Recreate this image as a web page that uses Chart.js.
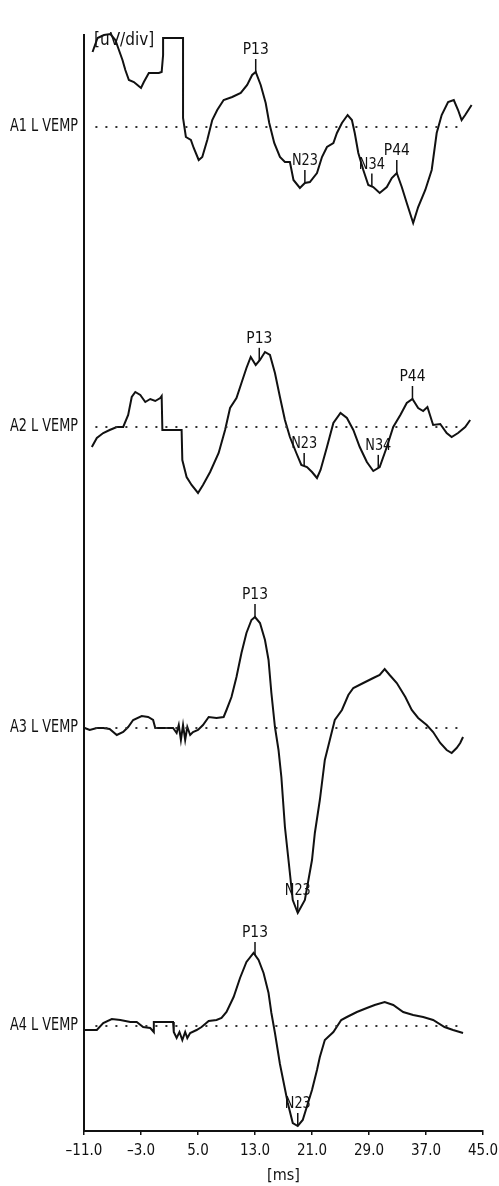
<!DOCTYPE html>
<html>
<head>
<meta charset="utf-8">
<script src="https://cdn.jsdelivr.net/npm/chart.js@4.4.1/dist/chart.umd.min.js"></script>
<style>
  html, body { margin: 0; padding: 0; background: #fff; }
</style>
</head>
<body>
<canvas id="vempChart" width="499" height="1186"></canvas>
<script>
// Eje x en ms; cada trazo: [ms, amplitud relativa a su línea base]
const xTicks = [-11, -3, 5, 13, 21, 29, 37, 45];
const traceNames = ['A1 L VEMP', 'A2 L VEMP', 'A3 L VEMP', 'A4 L VEMP'];
const baselines = [1004, 704, 403, 105];
const dotSpan = [-9.4, 42.5];

const a1 = [[-9.8,75],[-9.1,89],[-8.2,92],[-7.3,93],[-6.6,87],[-6.1,77],[-5.6,67],[-5.2,57],[-4.7,47],[-4.0,45],
  [-3.5,42],[-3.0,39],[-2.6,45],[-1.9,54],[-1.2,54],[-0.5,54],[-0.1,55],[0.1,72],[0.1,89],[2.9,89],
  [2.9,9],[3.3,-10],[4.0,-13],[4.4,-21],[5.1,-33],[5.6,-30],[6.3,-13],[7.0,7],[7.7,17],[8.6,27],
  [9.8,30],[11.0,34],[11.9,42],[12.6,52],[13.1,55],[13.8,42],[14.5,24],[15.0,4],[15.7,-16],[16.5,-30],
  [17.2,-35],[17.9,-35],[18.4,-53],[19.3,-61],[20.0,-56],[20.7,-55],[21.7,-46],[22.4,-30],[23.1,-20],[24.0,-16],
  [24.5,-6],[25.2,4],[26.0,12],[26.6,7],[27.0,-6],[27.5,-26],[28.2,-43],[28.9,-58],[29.6,-60],[30.5,-66],
  [31.5,-60],[32.2,-51],[32.9,-46],[33.6,-60],[34.3,-76],[35.2,-96],[35.9,-80],[36.9,-63],[37.8,-43],[38.5,-6],
  [39.2,12],[40.1,25],[40.9,27],[41.5,17],[42.0,7],[42.5,12],[43.4,22]];

const a2 = [[-9.9,-20],[-9.2,-11],[-8.3,-6],[-7.4,-3],[-6.4,0],[-5.5,0],[-4.8,12],[-4.3,30],[-3.8,35],[-3.1,32],
  [-2.4,25],[-1.7,28],[-1.0,26],[-0.3,29],[-0.1,31],[0.0,-3],[2.7,-3],[2.8,-33],[3.4,-50],[4.1,-58],
  [5.0,-66],[5.7,-58],[6.7,-45],[7.9,-26],[8.8,-3],[9.5,19],[10.4,29],[11.1,44],[11.8,59],[12.4,70],
  [13.1,62],[13.7,67],[14.4,75],[15.1,72],[15.8,54],[16.5,30],[17.2,7],[17.9,-10],[18.8,-26],[19.5,-38],
  [20.3,-40],[21.0,-45],[21.7,-51],[22.2,-43],[23.1,-20],[24.0,4],[25.0,14],[25.9,9],[26.8,-3],[27.7,-20],
  [28.7,-35],[29.6,-44],[30.5,-40],[31.5,-20],[32.4,0],[33.4,12],[34.3,24],[35.1,28],[35.9,19],[36.6,16],
  [37.2,20],[38.0,2],[39.0,3],[39.9,-6],[40.6,-10],[41.5,-6],[42.5,0],[43.2,7]];

const a3 = [[-10.9,0],[-10.2,-2],[-9.2,0],[-8.3,0],[-7.4,-1],[-6.4,-7],[-5.5,-4],[-4.8,1],[-4.1,8],[-2.9,12],
  [-2.0,11],[-1.3,8],[-1.0,0],[0.1,0],[1.5,0],[2.0,-5],[2.3,3],[2.6,-12],[2.9,3],[3.2,-12],
  [3.5,1],[3.9,-7],[4.3,-4],[5.0,-2],[5.7,3],[6.5,11],[7.6,10],[8.6,11],[9.0,18],[9.7,31],
  [10.4,51],[11.1,75],[11.8,95],[12.5,108],[13.0,111],[13.7,105],[14.4,88],[14.9,68],[15.3,35],[15.8,1],
  [16.3,-22],[16.7,-49],[17.2,-99],[17.7,-132],[18.3,-172],[19.0,-185],[20.0,-172],[21.0,-132],[21.4,-105],[22.1,-72],
  [22.8,-32],[23.5,-12],[24.2,8],[25.2,18],[26.1,33],[26.8,40],[28.2,45],[29.6,50],[30.5,53],[31.2,59],
  [31.9,53],[32.9,45],[34.1,31],[35.0,18],[35.9,10],[37.1,3],[38.0,-4],[39.0,-15],[39.9,-22],[40.6,-25],
  [41.3,-20],[41.8,-15],[42.2,-9]];

const a4 = [[-10.9,-4],[-9.2,-4],[-8.3,3],[-7.1,7],[-5.9,6],[-4.5,4],[-3.6,4],[-2.7,-1],[-1.7,-2],[-1.2,-6],
  [-1.2,4],[1.5,4],[1.6,-6],[2.0,-12],[2.4,-6],[2.8,-14],[3.2,-6],[3.5,-12],[3.9,-7],[4.8,-4],
  [5.5,-1],[6.5,5],[7.6,6],[8.3,8],[9.0,14],[10.0,29],[10.9,48],[11.8,64],[12.8,73],[13.5,66],
  [14.2,53],[14.9,33],[15.3,13],[15.8,-7],[16.5,-38],[17.6,-77],[18.3,-97],[19.0,-100],[19.7,-94],[21.0,-64],
  [21.7,-44],[22.1,-31],[22.8,-14],[24.0,-6],[25.1,6],[25.9,9],[27.3,14],[28.7,18],[29.8,21],[31.2,24],
  [32.4,21],[33.8,14],[35.2,11],[36.6,9],[38.0,6],[39.6,-1],[40.8,-4],[42.2,-7]];

// Picos marcados: [trazo, etiqueta, ms]
const peaks = [
  [0, 'P13', 13.1], [0, 'N23', 20.0], [0, 'N34', 29.4], [0, 'P44', 32.9],
  [1, 'P13', 13.6], [1, 'N23', 19.9], [1, 'N34', 30.3], [1, 'P44', 35.1],
  [2, 'P13', 13.0], [2, 'N23', 19.0],
  [3, 'P13', 13.0], [3, 'N23', 19.0]
];

const traces = [a1, a2, a3, a4];
const FONT = "'Liberation Sans Narrow', 'DejaVu Sans Condensed', 'Roboto', sans-serif";
const INK = '#111';

// Interpolación lineal del trazo en un tiempo dado
function valueAt(tr, ms) {
  for (let i = 1; i < tr.length; i++) {
    const [t0, v0] = tr[i - 1];
    const [t1, v1] = tr[i];
    if (ms >= t0 && ms <= t1) {
      return t1 === t0 ? v1 : v0 + (v1 - v0) * (ms - t0) / (t1 - t0);
    }
  }
  return 0;
}

const fmtTick = v => (v < 0 ? '\u2013' + Math.abs(v).toFixed(1) : v.toFixed(1));

const vempLabels = {
  id: 'vempLabels',
  afterDatasetsDraw(chart) {
    const { ctx, chartArea } = chart;
    const x = chart.scales.x;
    const y = chart.scales.y;
    ctx.save();
    ctx.fillStyle = INK;
    ctx.strokeStyle = INK;
    ctx.textBaseline = 'middle';

    // Nombres de cada trazo
    ctx.font = '17px ' + FONT;
    ctx.textAlign = 'right';
    traceNames.forEach((name, i) => {
      ctx.fillText(name, chartArea.left - 6, y.getPixelForValue(baselines[i]), 68);
    });

    // Unidad vertical
    ctx.textAlign = 'left';
    ctx.font = '17px ' + FONT;
    ctx.fillText('[uV/div]', chartArea.left + 10, chartArea.top + 6, 64);

    // Marcas de picos
    ctx.font = '16px ' + FONT;
    ctx.textAlign = 'center';
    ctx.lineWidth = 1.5;
    peaks.forEach(([ti, label, ms]) => {
      const px = x.getPixelForValue(ms);
      const py = y.getPixelForValue(baselines[ti] + valueAt(traces[ti], ms));
      ctx.beginPath();
      ctx.moveTo(px, py);
      ctx.lineTo(px, py - 13);
      ctx.stroke();
      ctx.fillText(label, px, py - 22, 26);
    });
    ctx.restore();
  }
};

const datasets = [];
traces.forEach((tr, i) => {
  datasets.push({
    data: dotSpan.map(t => ({ x: t, y: baselines[i] })),
    borderColor: '#333',
    borderWidth: 2,
    borderDash: [2, 8],
    pointRadius: 0
  });
  datasets.push({
    data: tr.map(([t, v]) => ({ x: t, y: baselines[i] + v })),
    borderColor: INK,
    borderWidth: 2,
    pointRadius: 0,
    tension: 0,
    clip: false
  });
});

Chart.defaults.font.family = FONT;
Chart.defaults.color = INK;

new Chart(document.getElementById('vempChart').getContext('2d'), {
  type: 'line',
  data: { datasets },
  options: {
    responsive: false,
    animation: false,
    layout: { padding: { top: 35, right: 16, left: 0, bottom: 0 } },
    plugins: { legend: { display: false }, tooltip: { enabled: false } },
    scales: {
      x: {
        type: 'linear',
        min: -11,
        max: 45,
        afterBuildTicks: s => { s.ticks = xTicks.map(v => ({ value: v })); },
        afterFit: s => { s.height = 55; s.paddingLeft = 0; s.paddingRight = 0; },
        border: { color: INK, width: 2 },
        grid: { drawOnChartArea: false, tickLength: 4, color: INK, lineWidth: 1.5 },
        ticks: { color: INK, font: { size: 15 }, padding: 7, maxRotation: 0, autoSkip: false, callback: fmtTick },
        title: { display: true, text: '[ms]', color: INK, font: { size: 16 }, padding: { top: 0, bottom: 1 } }
      },
      y: {
        type: 'linear',
        min: 0,
        max: 1096,
        afterFit: s => { s.width = 84; },
        border: { color: INK, width: 2 },
        grid: { display: false },
        ticks: { display: false }
      }
    }
  },
  plugins: [vempLabels]
});
</script>
</body>
</html>
